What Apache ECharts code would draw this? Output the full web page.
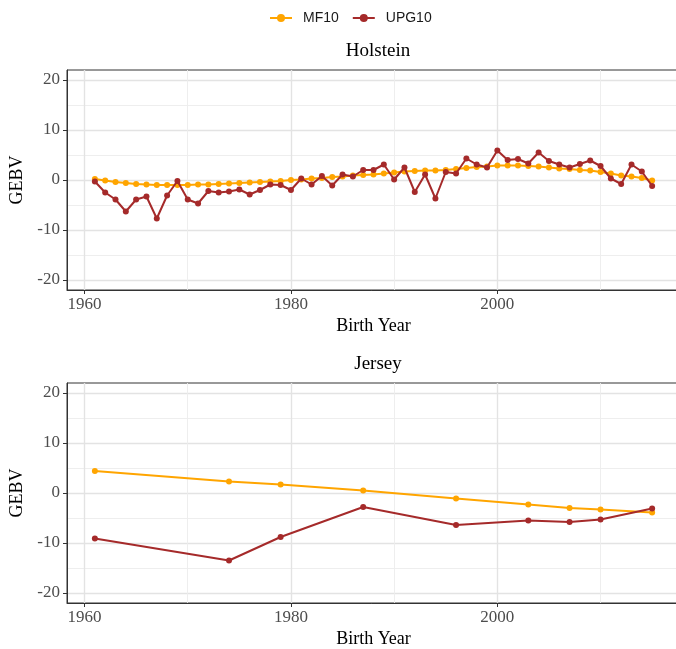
<!DOCTYPE html>
<html>
<head>
<meta charset="utf-8">
<script src="https://cdn.jsdelivr.net/npm/echarts@6/dist/echarts.min.js"></script>
<style>html,body{margin:0;padding:0;background:#fff}#c{width:676px;height:649px}</style>
</head>
<body>
<div id="c"></div>
<script>
const holsteinYears = [1961,1962,1963,1964,1965,1966,1967,1968,1969,1970,
  1971,1972,1973,1974,1975,1976,1977,1978,1979,1980,
  1981,1982,1983,1984,1985,1986,1987,1988,1989,1990,
  1991,1992,1993,1994,1995,1996,1997,1998,1999,2000,
  2001,2002,2003,2004,2005,2006,2007,2008,2009,2010,
  2011,2012,2013,2014,2015];
const holsteinMF10 = [0.2,-0.1,-0.4,-0.6,-0.8,-0.9,-1.0,-1.0,-1.0,-1.0,
  -0.9,-0.9,-0.8,-0.7,-0.6,-0.5,-0.4,-0.3,-0.2,0.0,
  0.1,0.3,0.4,0.6,0.7,0.9,1.0,1.1,1.3,1.5,
  1.7,1.8,1.9,1.9,2.0,2.2,2.4,2.6,2.7,2.9,
  2.9,2.9,2.8,2.7,2.5,2.3,2.2,2.0,1.9,1.6,
  1.3,0.9,0.7,0.4,-0.1];
const holsteinUPG10 = [-0.3,-2.5,-3.9,-6.3,-3.9,-3.3,-7.7,-3.1,-0.2,-3.9,
  -4.7,-2.2,-2.5,-2.3,-1.9,-2.9,-2.0,-0.9,-1.0,-2.0,
  0.3,-0.9,0.8,-1.1,1.1,0.7,2.0,2.0,3.1,0.1,
  2.5,-2.4,1.1,-3.7,1.6,1.3,4.3,3.1,2.5,5.9,
  4.0,4.2,3.3,5.5,3.8,3.1,2.5,3.2,3.9,2.8,
  0.3,-0.8,3.1,1.7,-1.2];
const jerseyYears = [1961,1974,1979,1987,1996,2003,2007,2010,2015];
const jerseyMF10 = [4.4,2.3,1.7,0.5,-1.1,-2.3,-3.0,-3.3,-3.9];
const jerseyUPG10 = [-9.1,-13.5,-8.8,-2.8,-6.4,-5.5,-5.8,-5.3,-3.1];
const xTicks = [1960,1980,2000];
const yTicks = [-20,-10,0,10,20];
const panelTitles = ['Holstein','Jersey'];
const seriesNames = ['MF10','UPG10'];

const colMF = '#FFA500';
const colUPG = '#A52A2A';
const serif = 'Liberation Serif';

function pairs(xs, ys){ return xs.map((x,i)=>[x, ys[i]]); }

// the panel runs slightly past the right page edge like the reference
const grids = [
  {left:67, top:70, width:613, height:220, show:true, borderColor:'#333', borderWidth:1, outerBoundsMode:'none'},
  {left:67, top:383, width:613, height:220, show:true, borderColor:'#333', borderWidth:1, outerBoundsMode:'none'}
];
const xMin = 1958.3, xMax = 2017.7;

function xAxis(i){
  return {
    type:'value', gridIndex:i, min:xMin, max:xMax, splitNumber:3,
    name:'Birth Year', nameLocation:'middle', nameGap:27,
    nameTextStyle:{fontFamily:serif, fontSize:18, color:'#000'},
    axisLine:{show:true, onZero:false, lineStyle:{color:'#333', width:1}},
    axisTick:{show:true, length:4, lineStyle:{color:'#333'}, customValues:xTicks},
    axisLabel:{fontFamily:serif, fontSize:17, color:'#4d4d4d', margin:6, customValues:xTicks,
      formatter:function(v){return String(v);}},
    splitLine:{show:true, lineStyle:{color:'#e3e3e3', width:1.4}},
    minorTick:{show:false, splitNumber:2},
    minorSplitLine:{show:true, lineStyle:{color:'#ececec', width:0.9}}
  };
}
function yAxis(i){
  return {
    type:'value', gridIndex:i, min:-22, max:22, splitNumber:4,
    name:'GEBV', nameLocation:'middle', nameGap:34, nameRotate:90,
    nameTextStyle:{fontFamily:serif, fontSize:18, color:'#000'},
    axisLine:{show:true, onZero:false, lineStyle:{color:'#333', width:1}},
    axisTick:{show:true, length:4, lineStyle:{color:'#333'}, customValues:yTicks},
    axisLabel:{fontFamily:serif, fontSize:17, color:'#4d4d4d', margin:7, customValues:yTicks},
    splitLine:{show:true, lineStyle:{color:'#e3e3e3', width:1.4}},
    minorTick:{show:false, splitNumber:2},
    minorSplitLine:{show:true, lineStyle:{color:'#ececec', width:0.9}}
  };
}

function lineSeries(name, color, data, idx){
  return {
    type:'line', name:name, xAxisIndex:idx, yAxisIndex:idx, data:data,
    symbol:'circle', symbolSize:6, showSymbol:true,
    lineStyle:{color:color, width:2}, itemStyle:{color:color},
    emphasis:{disabled:true}, animation:false, z: name==='MF10'?2:3
  };
}

const option = {
  backgroundColor:'#fff',
  animation:false,
  legend:{
    top:6, left:264, itemWidth:22, itemHeight:10, itemGap:13,
    data:seriesNames,
    textStyle:{fontFamily:'Liberation Sans', fontSize:14, color:'#1a1a1a', padding:[0,0,0,6]}
  },
  title:[
    {text:panelTitles[0], left:373, top:37, textAlign:'center',
     textStyle:{fontFamily:serif, fontSize:19, fontWeight:'normal', color:'#000'}},
    {text:panelTitles[1], left:373, top:350, textAlign:'center',
     textStyle:{fontFamily:serif, fontSize:19, fontWeight:'normal', color:'#000'}}
  ],
  grid:grids,
  xAxis:[xAxis(0), xAxis(1)],
  yAxis:[yAxis(0), yAxis(1)],
  series:[
    lineSeries(seriesNames[0], colMF, pairs(holsteinYears, holsteinMF10), 0),
    lineSeries(seriesNames[1], colUPG, pairs(holsteinYears, holsteinUPG10), 0),
    lineSeries(seriesNames[0], colMF, pairs(jerseyYears, jerseyMF10), 1),
    lineSeries(seriesNames[1], colUPG, pairs(jerseyYears, jerseyUPG10), 1)
  ]
};
const chart = echarts.init(document.getElementById('c'), null, {renderer:'canvas'});
chart.setOption(option);
</script>
</body>
</html>
